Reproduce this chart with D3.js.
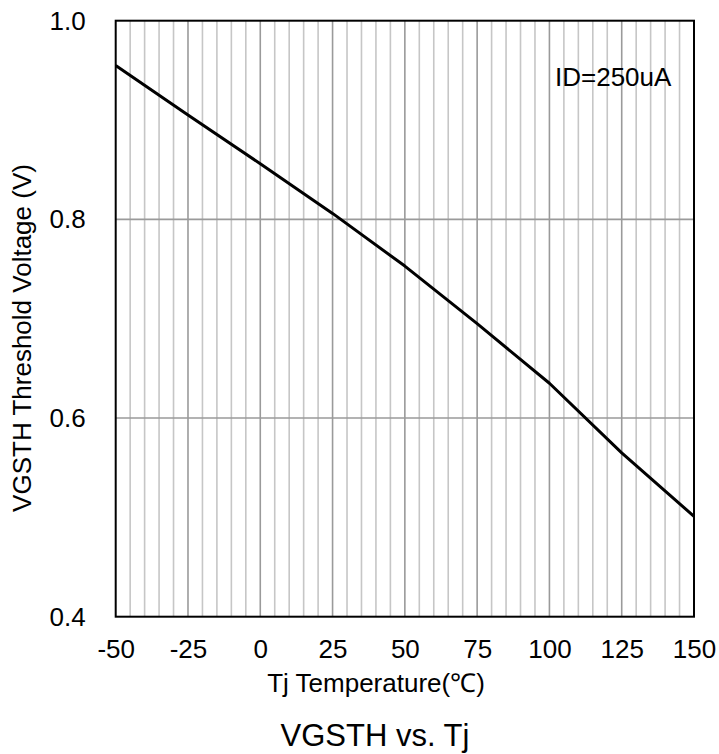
<!DOCTYPE html>
<html>
<head>
<meta charset="utf-8">
<script src="https://cdn.jsdelivr.net/npm/d3@7"></script>
<style>
  html, body { margin: 0; padding: 0; background: #fff; }
  svg { display: block; }
  text { font-family: "Liberation Sans", Arial, sans-serif; fill: #000; }
</style>
</head>
<body>
<svg id="chart" width="719" height="754"></svg>
<script>
// ---- data ----
const temps = [-50, -25, 0, 25, 50, 75, 100, 125, 150];
const vgsth = [0.955, 0.905, 0.856, 0.806, 0.753, 0.695, 0.635, 0.565, 0.501];
const xTicks = [-50, -25, 0, 25, 50, 75, 100, 125, 150];
const yTicks = [0.4, 0.6, 0.8, 1.0];
const xTitle = "Tj Temperature(℃)";
const yTitle = "VGSTH Threshold Voltage (V)";
const chartTitle = "VGSTH vs. Tj";
const note = "ID=250uA";

const svg = d3.select("#chart");
const L = 115.7, R = 694, T = 20.7, B = 616.7;
const x = d3.scaleLinear().domain([-50, 150]).range([L, R]);
const y = d3.scaleLinear().domain([0.4, 1.0]).range([B, T]);

// minor vertical grid every 5
const minor = d3.range(-45, 150, 5).filter(v => v % 25 !== 0);
svg.append("g").selectAll("line").data(minor).join("line")
  .attr("x1", d => x(d)).attr("x2", d => x(d))
  .attr("y1", T).attr("y2", B)
  .attr("stroke", "#c6c6c6").attr("stroke-width", 1.6);
// major vertical grid
const major = xTicks.filter(v => v > -50 && v < 150);
svg.append("g").selectAll("line").data(major).join("line")
  .attr("x1", d => x(d)).attr("x2", d => x(d))
  .attr("y1", T).attr("y2", B)
  .attr("stroke", "#9a9a9a").attr("stroke-width", 1.6);
// horizontal grid
const hg = yTicks.filter(v => v > 0.4 && v < 1.0);
svg.append("g").selectAll("line").data(hg).join("line")
  .attr("x1", L).attr("x2", R)
  .attr("y1", d => y(d)).attr("y2", d => y(d))
  .attr("stroke", "#9a9a9a").attr("stroke-width", 1.6);

// frame
svg.append("rect").attr("x", L).attr("y", T).attr("width", R - L).attr("height", B - T)
  .attr("fill", "none").attr("stroke", "#000").attr("stroke-width", 2);

// axes
const xAxis = svg.append("g").attr("transform", `translate(0,${B})`)
  .call(d3.axisBottom(x).tickValues(xTicks).tickSize(0).tickPadding(23).tickFormat(d => String(d)));
xAxis.select(".domain").remove();
xAxis.selectAll("text").style("font-size", "26px").style("font-family", '"Liberation Sans", Arial, sans-serif').attr("fill", "#000");

const yAxis = svg.append("g").attr("transform", `translate(${L},0)`)
  .call(d3.axisLeft(y).tickValues(yTicks).tickSize(0).tickPadding(30).tickFormat(d => d.toFixed(1)));
yAxis.select(".domain").remove();
yAxis.selectAll("text").style("font-size", "26px").style("font-family", '"Liberation Sans", Arial, sans-serif').attr("fill", "#000");

// data line
const line = d3.line().x((d, i) => x(temps[i])).y(d => y(d));
svg.append("path").datum(vgsth).attr("d", line)
  .attr("fill", "none").attr("stroke", "#000").attr("stroke-width", 3).attr("stroke-linejoin", "round");

// annotation
svg.append("text").attr("x", 555).attr("y", 86).style("font-size", "26px").text(note);

// axis titles
svg.append("text").attr("x", 376).attr("y", 692).attr("text-anchor", "middle")
  .style("font-size", "26px").text(xTitle);
svg.append("text").attr("transform", "translate(31,338) rotate(-90)").attr("text-anchor", "middle")
  .style("font-size", "26px").text(yTitle);
svg.append("text").attr("x", 375).attr("y", 746).attr("text-anchor", "middle")
  .style("font-size", "31px").text(chartTitle);
</script>
</body>
</html>
